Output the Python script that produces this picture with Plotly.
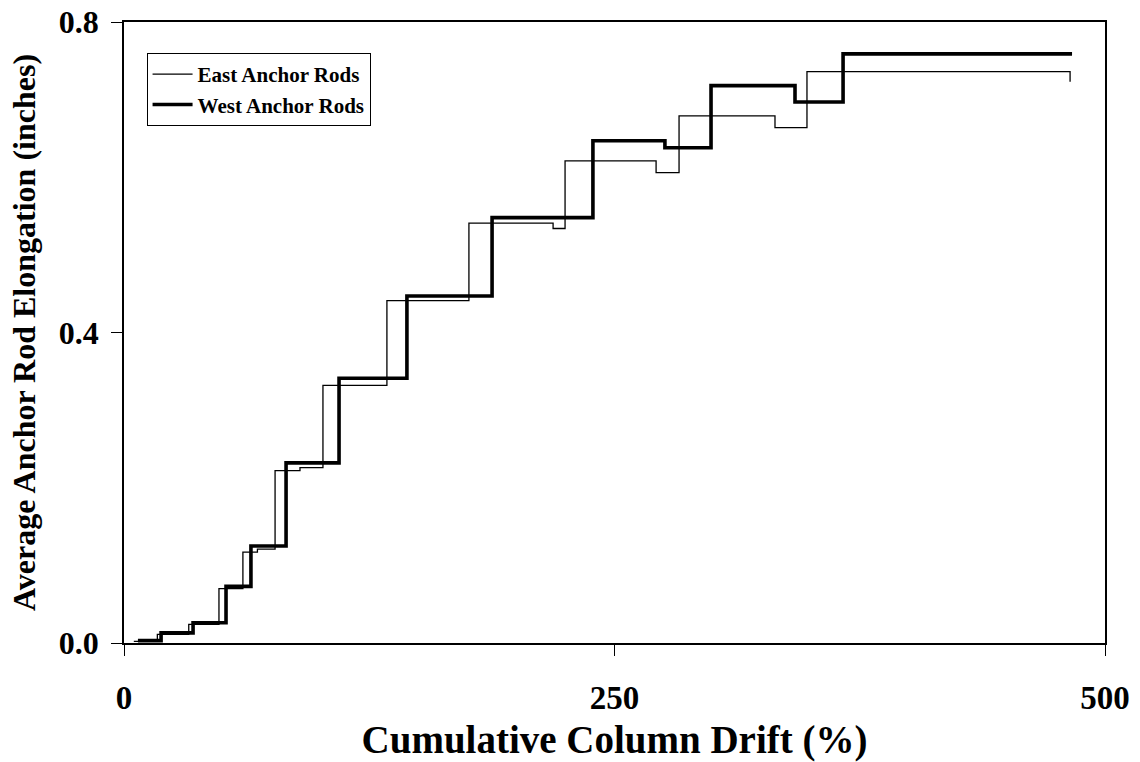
import plotly.graph_objects as go

# East anchor rods (thin line), step data: drift (%) vs elongation (in)
east_x = [5, 17, 33, 48.4, 60.6, 68.0, 77.0, 89.7, 101.4, 134.0, 175.8, 218.7, 224.8, 271.2, 282.9, 331.8, 348.1, 482.2, 482.2]
east_y = [0.002, 0.011, 0.024, 0.070, 0.117, 0.121, 0.222, 0.226, 0.332, 0.441, 0.541, 0.534, 0.621, 0.606, 0.679, 0.664, 0.736, 0.736, 0.723]

# West anchor rods (thick line)
west_x = [7.1, 18.9, 35.2, 52.0, 64.7, 82.6, 109.6, 144.2, 187.6, 239.0, 275.7, 299.2, 342.0, 366.5, 483.2]
west_y = [0.003, 0.013, 0.026, 0.073, 0.125, 0.232, 0.341, 0.447, 0.548, 0.647, 0.638, 0.718, 0.697, 0.759, 0.759]

x_ticks = [0, 250, 500]
y_ticks = [0.0, 0.4, 0.8]
y_tick_text = ["0.0", "0.4", "0.8"]

FONT = "Liberation Serif"

fig = go.Figure()
fig.add_trace(go.Scatter(x=east_x, y=east_y, mode="lines", name="East Anchor Rods",
                         line=dict(color="black", width=1.3, shape="hv")))
fig.add_trace(go.Scatter(x=west_x, y=west_y, mode="lines", name="West Anchor Rods",
                         line=dict(color="black", width=3.6, shape="hv")))

fig.update_layout(
    width=1140, height=762,
    margin=dict(l=124, r=35, t=22, b=119, autoexpand=False),
    paper_bgcolor="white", plot_bgcolor="white",
    font=dict(family=FONT, color="black"),
    showlegend=True,
    legend=dict(x=0.023, y=0.95, xanchor="left", yanchor="top",
                bgcolor="white", bordercolor="black", borderwidth=1,
                font=dict(family=FONT, size=21, color="black", weight="bold"),
                tracegroupgap=0, itemwidth=40),
    xaxis=dict(range=[0, 500], tickvals=x_ticks, ticktext=[str(v) for v in x_ticks],
               automargin=False, ticklabeloverflow="allow",
               showgrid=False, zeroline=False, showline=True, linecolor="black", linewidth=1.5,
               mirror=True, ticks="outside", ticklen=11, tickcolor="black", tickwidth=1,
               ticklabelstandoff=14,
               tickfont=dict(family=FONT, size=33, color="black", weight="bold"),
               title=dict(text="Cumulative Column Drift (%)", standoff=10,
                          font=dict(family=FONT, size=39, color="black", weight="bold"))),
    yaxis=dict(range=[0, 0.8], tickvals=y_ticks, ticktext=y_tick_text,
               automargin=False, ticklabeloverflow="allow",
               showgrid=False, zeroline=False, showline=True, linecolor="black", linewidth=1.5,
               mirror=True, ticks="outside", ticklen=11, tickcolor="black", tickwidth=1,
               ticklabelstandoff=6,
               tickfont=dict(family=FONT, size=32, color="black", weight="bold"),
               title=dict(text="Average Anchor Rod Elongation (inches)", standoff=14,
                          font=dict(family=FONT, size=32, color="black", weight="bold"))),
)

fig.write_html("out.html", config={"displayModeBar": False},
               post_script="document.body.style.margin='0';")
